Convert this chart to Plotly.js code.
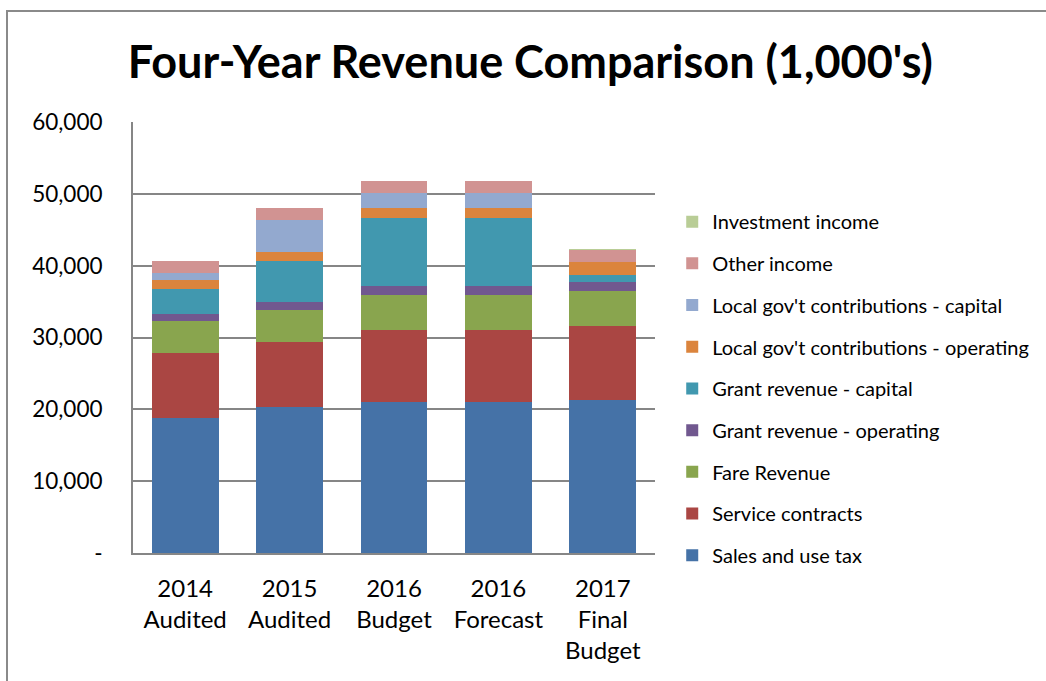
<!DOCTYPE html>
<html>
<head>
<meta charset="utf-8">
<script src="https://cdn.plot.ly/plotly-3.0.1.min.js"></script>
<style>
  html, body { margin:0; padding:0; width:1046px; height:681px; overflow:hidden; background:#fff; }
  #frame { position:absolute; left:6px; top:10px; width:1200px; height:900px; border:2px solid #8a8a8a; box-sizing:border-box; }
  #chart { position:absolute; left:0; top:0; width:1046px; height:681px; }
</style>
</head>
<body>
<div id="frame"></div>
<div id="chart"></div>
<script>
const categories = ["2014<br>Audited", "2015<br>Audited", "2016<br>Budget", "2016<br>Forecast", "2017<br>Final<br>Budget"];

const salesTax        = [18750, 20370, 21020, 21000, 21300];
const serviceContracts= [9030, 8940, 10040, 10050, 10370];
const fareRevenue     = [4490, 4490, 4860, 4860, 4810];
const grantOperating  = [970, 1110, 1250, 1250, 1250];
const grantCapital    = [3470, 5740, 9440, 9460, 1020];
const localOperating  = [1300, 1250, 1390, 1390, 1760];
const localCapital    = [1020, 4490, 2130, 2130, 0];
const otherIncome     = [1570, 1620, 1620, 1620, 1710];
const investmentIncome= [40, 40, 50, 50, 50];

const seriesNames = ["Sales and use tax", "Service contracts", "Fare Revenue", "Grant revenue - operating",
  "Grant revenue - capital", "Local gov't contributions - operating", "Local gov't contributions - capital",
  "Other income", "Investment income"];
const seriesValues = [salesTax, serviceContracts, fareRevenue, grantOperating, grantCapital,
  localOperating, localCapital, otherIncome, investmentIncome];
const seriesColors = ["#4572A7", "#AA4643", "#89A54E", "#71588F", "#4198AF", "#DB843D", "#93A9CF", "#D19392", "#B9CD96"];

const yTickVals = [0, 10000, 20000, 30000, 40000, 50000, 60000];
const yTickText = ["-", "10,000", "20,000", "30,000", "40,000", "50,000", "60,000"];

const FONT = "Lato, 'Open Sans', sans-serif";

const traces = seriesNames.map((name, i) => ({
  type: "bar",
  name: name,
  x: categories,
  y: seriesValues[i],
  legendgroup: "g" + i,
  legendrank: 100 - i,
  marker: { color: seriesColors[i], line: { width: 0 } },
  hoverinfo: "name+y"
}));

const layout = {
  width: 1046, height: 681,
  paper_bgcolor: "rgba(0,0,0,0)",
  plot_bgcolor: "rgba(0,0,0,0)",
  margin: { l: 133, r: 391, t: 122, b: 128, pad: 0 },
  barmode: "stack",
  bargap: 0.36,
  showlegend: true,
  title: {
    text: "<b>Four-Year Revenue Comparison (1,000's)</b>",
    font: { family: FONT, size: 45, color: "#000" },
    x: 0.507, xref: "container", xanchor: "center",
    y: 0.908, yref: "container", yanchor: "middle"
  },
  font: { family: FONT, color: "#000" },
  xaxis: {
    type: "category",
    showgrid: false,
    showline: true, linecolor: "#868686", linewidth: 2,
    ticks: "outside", ticklen: 13, tickcolor: "rgba(0,0,0,0)",
    tickfont: { family: FONT, size: 24, color: "#000" },
    fixedrange: true
  },
  yaxis: {
    range: [0, 60000],
    tickvals: yTickVals, ticktext: yTickText,
    showgrid: true, gridcolor: "#868686", gridwidth: 2,
    showline: true, linecolor: "#868686", linewidth: 2,
    zeroline: false,
    ticks: "outside", ticklen: 24, tickcolor: "rgba(0,0,0,0)",
    tickfont: { family: FONT, size: 22.5, color: "#000" },
    fixedrange: true
  },
  legend: {
    x: 1.033, xanchor: "left",
    y: 0.814, yanchor: "top",
    traceorder: "grouped",
    tracegroupgap: 12.7,
    font: { family: FONT, size: 20, color: "#000" },
    bgcolor: "rgba(0,0,0,0)"
  }
};

Plotly.newPlot("chart", traces, layout, { displayModeBar: false, staticPlot: true });
</script>
</body>
</html>
